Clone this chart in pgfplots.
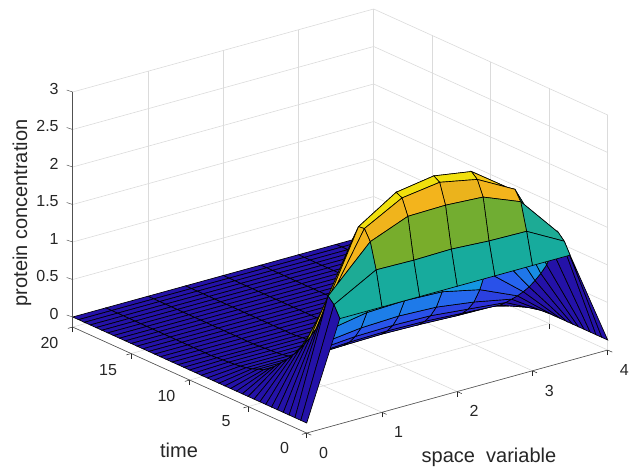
\documentclass[border=0pt]{standalone}
\usepackage{pgfplots}
\pgfplotsset{compat=1.18}
\usepackage{fontspec}
\setmainfont{Liberation Sans}
\definecolor{axt}{RGB}{38,38,38}
\begin{document}
\begin{tikzpicture}
\useasboundingbox (-306.7pt,-46pt) rectangle (322.3pt,423pt);
\begin{axis}[
  at={(0,0)},anchor=origin,
  x={(75.25pt,20.75pt)},y={(-11.7pt,5.3pt)},z={(0pt,75pt)},
  xmin=0,xmax=4,ymin=0,ymax=20,zmin=-0.134,zmax=3,
  xtick={0,1,2,3,4},ytick={0,5,10,15,20},ztick={0,0.5,1,1.5,2,2.5,3},
  zticklabels={0,0.5,1,1.5,2,2.5,3},
  grid=major,grid style={black!14,line width=0.6pt},
  axis line style={draw=none},
  tick align=outside,major tick length=5pt,
  xtick pos=left,ytick pos=left,ztick pos=left,
  xticklabel pos=left,yticklabel pos=left,zticklabel pos=left,
  tick style={axt,line width=0.5pt},
  every major z tick/.append style={draw=none},
  tick label style={font=\fontsize{16}{18}\selectfont,text=axt},
  xticklabel style={xshift=6pt,yshift=-8pt},
  yticklabel style={xshift=-10pt,yshift=-4pt},
  zticklabel style={xshift=-6pt,yshift=0.5pt},
  /pgf/number format/assume math mode=true,
  xlabel={space\ \ variable},ylabel={time},zlabel={protein concentration},
  label style={font=\fontsize{20}{22}\selectfont,text=axt},
  xlabel style={at={(axis cs:0.886,-9.88,0)},anchor=center,sloped=false,rotate=0},
  ylabel style={at={(axis cs:-1.547,0.963,0)},anchor=center,sloped=false,rotate=0},
  zlabel style={at={(axis cs:0,24.33,1.08)},anchor=center,sloped=false},
  colormap={pm}{rgb255(0pt)=(36,18,168);rgb255(12pt)=(45,45,215);rgb255(22pt)=(40,95,240);rgb255(35pt)=(20,150,225);rgb255(49pt)=(23,171,156);rgb255(66pt)=(118,173,44);rgb255(80pt)=(190,175,30);rgb255(88pt)=(245,180,28);rgb255(100pt)=(240,232,10)},
  point meta min=0,point meta max=2.6,
  clip=false,
]
\addplot3[surf,shader=flat corner,draw=black,line width=0.65pt,z buffer=none,mesh/rows=41,mesh/cols=9,point meta=explicit] coordinates {
(4,20,0)[0] (3.5,20,0)[0] (3,20,0)[0] (2.5,20,0)[0] (2,20,0)[0] (1.5,20,0)[0] (1,20,0)[0] (0.44,20,0)[0] (0,20,0)[0]
(4,19.5,0)[0] (3.5,19.5,0)[0] (3,19.5,0)[0] (2.5,19.5,0)[0] (2,19.5,0)[0] (1.5,19.5,0)[0] (1,19.5,0)[0] (0.44,19.5,0)[0] (0,19.5,0)[0]
(4,19,0)[0] (3.5,19,0)[0] (3,19,0)[0] (2.5,19,0)[0] (2,19,0)[0] (1.5,19,0)[0] (1,19,0)[0] (0.44,19,0)[0] (0,19,0)[0]
(4,18.5,0)[0] (3.5,18.5,0)[0] (3,18.5,0)[0] (2.5,18.5,0)[0] (2,18.5,0)[0] (1.5,18.5,0)[0] (1,18.5,0)[0] (0.44,18.5,0)[0] (0,18.5,0)[0]
(4,18,0)[0] (3.5,18,0)[0] (3,18,0)[0] (2.5,18,0)[0] (2,18,0)[0] (1.5,18,0)[0] (1,18,0)[0] (0.44,18,0)[0] (0,18,0)[0]
(4,17.5,0)[0] (3.5,17.5,0)[0] (3,17.5,0)[0] (2.5,17.5,0)[0] (2,17.5,0)[0] (1.5,17.5,0)[0] (1,17.5,0)[0] (0.44,17.5,0)[0] (0,17.5,0)[0]
(4,17,0)[0] (3.5,17,0)[0] (3,17,0)[0] (2.5,17,0)[0] (2,17,0)[0] (1.5,17,0)[0] (1,17,0)[0] (0.44,17,0)[0] (0,17,0)[0]
(4,16.5,0)[0] (3.5,16.5,0)[0] (3,16.5,0)[0] (2.5,16.5,0)[0] (2,16.5,0)[0] (1.5,16.5,0)[0] (1,16.5,0)[0] (0.44,16.5,0)[0] (0,16.5,0)[0]
(4,16,0)[0] (3.5,16,0)[0] (3,16,0)[0] (2.5,16,0)[0] (2,16,0)[0] (1.5,16,0)[0] (1,16,0)[0] (0.44,16,0)[0] (0,16,0)[0]
(4,15.5,0)[0] (3.5,15.5,0)[0] (3,15.5,0)[0] (2.5,15.5,0)[0] (2,15.5,0)[0] (1.5,15.5,0)[0] (1,15.5,0)[0] (0.44,15.5,0)[0] (0,15.5,0)[0]
(4,15,0)[0] (3.5,15,0)[0] (3,15,0)[0] (2.5,15,0)[0] (2,15,0)[0] (1.5,15,0)[0] (1,15,0)[0] (0.44,15,0)[0] (0,15,0)[0]
(4,14.5,0)[0] (3.5,14.5,0)[0] (3,14.5,0)[0] (2.5,14.5,0)[0] (2,14.5,0)[0] (1.5,14.5,0)[0] (1,14.5,0)[0] (0.44,14.5,0)[0] (0,14.5,0)[0]
(4,14,0)[0] (3.5,14,0)[0] (3,14,0)[0] (2.5,14,0)[0] (2,14,0)[0] (1.5,14,0)[0] (1,14,0)[0] (0.44,14,0)[0] (0,14,0)[0]
(4,13.5,0)[0] (3.5,13.5,0)[0] (3,13.5,0)[0] (2.5,13.5,0)[0] (2,13.5,0)[0] (1.5,13.5,0)[0] (1,13.5,0)[0] (0.44,13.5,0)[0] (0,13.5,0)[0]
(4,13,0)[0] (3.5,13,0)[0] (3,13,0)[0] (2.5,13,0)[0] (2,13,0)[0] (1.5,13,0)[0] (1,13,0)[0] (0.44,13,0)[0] (0,13,0)[0]
(4,12.5,0)[0] (3.5,12.5,0)[0] (3,12.5,0)[0] (2.5,12.5,0)[0] (2,12.5,0)[0] (1.5,12.5,0)[0] (1,12.5,0)[0] (0.44,12.5,0)[0] (0,12.5,0)[0]
(4,12,0)[0] (3.5,12,0)[0] (3,12,0)[0] (2.5,12,0)[0] (2,12,0)[0] (1.5,12,0)[0] (1,12,0)[0] (0.44,12,0)[0] (0,12,0)[0]
(4,11.5,0)[0] (3.5,11.5,0)[0] (3,11.5,0)[0] (2.5,11.5,0)[0] (2,11.5,0)[0] (1.5,11.5,0)[0] (1,11.5,0)[0] (0.44,11.5,0)[0] (0,11.5,0)[0]
(4,11,0)[0] (3.5,11,0)[0] (3,11,0)[0] (2.5,11,0)[0] (2,11,0)[0] (1.5,11,0)[0] (1,11,0)[0] (0.44,11,0)[0] (0,11,0)[0]
(4,10.5,0)[0] (3.5,10.5,0.005)[0] (3,10.5,0.005)[0] (2.5,10.5,0.005)[0] (2,10.5,0.005)[0] (1.5,10.5,0.005)[0] (1,10.5,0.005)[0] (0.44,10.5,0.005)[0] (0,10.5,0)[0]
(4,10,0)[0] (3.5,10,0.012)[0.02] (3,10,0.012)[0.02] (2.5,10,0.014)[0.02] (2,10,0.014)[0.02] (1.5,10,0.014)[0.02] (1,10,0.012)[0.02] (0.44,10,0.012)[0] (0,10,0)[0]
(4,9.5,0)[0] (3.5,9.5,0.018)[0.03] (3,9.5,0.017)[0.02] (2.5,9.5,0.019)[0.03] (2,9.5,0.02)[0.03] (1.5,9.5,0.019)[0.03] (1,9.5,0.017)[0.02] (0.44,9.5,0.018)[0] (0,9.5,0)[0]
(4,9,0)[0] (3.5,9,0.025)[0.04] (3,9,0.023)[0.03] (2.5,9,0.027)[0.04] (2,9,0.028)[0.04] (1.5,9,0.027)[0.04] (1,9,0.024)[0.03] (0.44,9,0.025)[0] (0,9,0)[0]
(4,8.5,0)[0] (3.5,8.5,0.035)[0.05] (3,8.5,0.033)[0.05] (2.5,8.5,0.039)[0.06] (2,8.5,0.04)[0.06] (1.5,8.5,0.039)[0.06] (1,8.5,0.034)[0.05] (0.44,8.5,0.035)[0] (0,8.5,0)[0]
(4,8,0)[0] (3.5,8,0.05)[0.07] (3,8,0.05)[0.07] (2.5,8,0.06)[0.08] (2,8,0.06)[0.085] (1.5,8,0.06)[0.08] (1,8,0.05)[0.07] (0.44,8,0.05)[0] (0,8,0)[0]
(4,7.5,0)[0] (3.5,7.5,0.07)[0.10] (3,7.5,0.07)[0.10] (2.5,7.5,0.08)[0.12] (2,7.5,0.085)[0.12] (1.5,7.5,0.08)[0.12] (1,7.5,0.07)[0.10] (0.44,7.5,0.07)[0] (0,7.5,0)[0]
(4,7,0)[0] (3.5,7,0.10)[0.13] (3,7,0.10)[0.14] (2.5,7,0.12)[0.16] (2,7,0.12)[0.17] (1.5,7,0.12)[0.16] (1,7,0.10)[0.14] (0.44,7,0.10)[0] (0,7,0)[0]
(4,6.5,0)[0] (3.5,6.5,0.13)[0.18] (3,6.5,0.14)[0.21] (2.5,6.5,0.16)[0.24] (2,6.5,0.17)[0.25] (1.5,6.5,0.16)[0.24] (1,6.5,0.14)[0.21] (0.44,6.5,0.13)[0] (0,6.5,0)[0]
(4,6,0)[0] (3.5,6,0.18)[0.25] (3,6,0.21)[0.30] (2.5,6,0.24)[0.35] (2,6,0.25)[0.36] (1.5,6,0.24)[0.35] (1,6,0.21)[0.31] (0.44,6,0.18)[0] (0,6,0)[0]
(4,5.5,0)[0] (3.5,5.5,0.25)[0.33] (3,5.5,0.30)[0.43] (2.5,5.5,0.35)[0.50] (2,5.5,0.36)[0.52] (1.5,5.5,0.35)[0.50] (1,5.5,0.31)[0.44] (0.44,5.5,0.25)[0] (0,5.5,0)[0]
(4,5,0)[0] (3.5,5,0.33)[0.41] (3,5,0.43)[0.63] (2.5,5,0.50)[0.74] (2,5,0.52)[0.76] (1.5,5,0.50)[0.74] (1,5,0.44)[0.65] (0.44,5,0.33)[0] (0,5,0)[0]
(4,4.5,0)[0] (3.5,4.5,0.41)[0.50] (3,4.5,0.63)[0.91] (2.5,4.5,0.74)[1.07] (2,4.5,0.76)[1.10] (1.5,4.5,0.74)[1.07] (1,4.5,0.65)[0.94] (0.44,4.5,0.41)[0] (0,4.5,0)[0]
(4,4,0)[0] (3.5,4,0.50)[0.60] (3,4,0.91)[1.25] (2.5,4,1.07)[1.46] (2,4,1.10)[1.50] (1.5,4,1.07)[1.46] (1,4,0.94)[1.28] (0.44,4,0.50)[0] (0,4,0)[0]
(4,3.5,0)[0] (3.5,3.5,0.60)[0.72] (3,3.5,1.25)[1.62] (2.5,3.5,1.46)[1.89] (2,3.5,1.50)[1.95] (1.5,3.5,1.46)[1.89] (1,3.5,1.28)[1.66] (0.44,3.5,0.60)[0] (0,3.5,0)[0]
(4,3,0)[0] (3.5,3,0.72)[0.85] (3,3,1.62)[1.95] (2.5,3,1.89)[2.28] (2,3,1.95)[2.35] (1.5,3,1.89)[2.28] (1,3,1.66)[2.00] (0.44,3,0.72)[0] (0,3,0)[0]
(4,2.5,0)[0] (3.5,2.5,0.85)[1.00] (3,2.5,1.95)[2.16] (2.5,2.5,2.28)[2.52] (2,2.5,2.35)[2.60] (1.5,2.5,2.28)[2.52] (1,2.5,2.00)[2.20] (0.44,2.5,0.85)[0] (0,2.5,0)[0]
(4,2,0)[0] (3.5,2,1.00)[1.22] (3,2,2.16)[2.40] (2.5,2,2.52)[2.55] (2,2,2.60)[2.55] (1.5,2,2.52)[2.55] (1,2,2.20)[2.35] (0.44,2,1.00)[0] (0,2,0)[0]
(4,1.5,0)[0] (3.5,1.5,1.22)[1.32] (3,1.5,2.18)[2.28] (2.5,1.5,2.45)[2.25] (2,1.5,2.55)[2.28] (1.5,1.5,2.48)[2.27] (1,1.5,2.21)[2.28] (0.44,1.5,1.22)[0] (0,1.5,0)[0]
(4,1,0)[0] (3.5,1,1.50)[1.30] (3,1,2.05)[1.69] (2.5,1,2.25)[1.70] (2,1,2.28)[1.73] (1.5,1,2.27)[1.72] (1,1,2.07)[1.30] (0.44,1,1.50)[0] (0,1,0)[0]
(4,0.5,0)[0] (3.5,0.5,1.42)[1.27] (3,0.5,1.69)[1.27] (2.5,0.5,1.70)[1.27] (2,0.5,1.73)[1.27] (1.5,0.5,1.72)[1.27] (1,0.5,1.73)[1.27] (0.44,0.5,1.42)[0] (0,0.5,0)[0]
(4,0,0)[0] (3.5,0,1.27)[0] (3,0,1.27)[0] (2.5,0,1.27)[0] (2,0,1.27)[0] (1.5,0,1.27)[0] (1,0,1.27)[0] (0.44,0,1.27)[0] (0,0,0)[0]
};
\draw[axt!80,line width=0.6pt] (axis cs:0,0,-0.134) -- (axis cs:4,0,-0.134);
\draw[axt!80,line width=0.6pt] (axis cs:0,0,-0.134) -- (axis cs:0,20,-0.134);
\draw[axt!80,line width=0.6pt] (axis cs:0,20,-0.134) -- (axis cs:0,20,3);
\draw[axt!80,line width=0.5pt] (axis cs:0,20,0) -- ++(-6pt,2pt);
\draw[axt!80,line width=0.5pt] (axis cs:0,20,0.5) -- ++(-6pt,2pt);
\draw[axt!80,line width=0.5pt] (axis cs:0,20,1) -- ++(-6pt,2pt);
\draw[axt!80,line width=0.5pt] (axis cs:0,20,1.5) -- ++(-6pt,2pt);
\draw[axt!80,line width=0.5pt] (axis cs:0,20,2) -- ++(-6pt,2pt);
\draw[axt!80,line width=0.5pt] (axis cs:0,20,2.5) -- ++(-6pt,2pt);
\draw[axt!80,line width=0.5pt] (axis cs:0,20,3) -- ++(-6pt,2pt);
\end{axis}
\end{tikzpicture}
\end{document}
